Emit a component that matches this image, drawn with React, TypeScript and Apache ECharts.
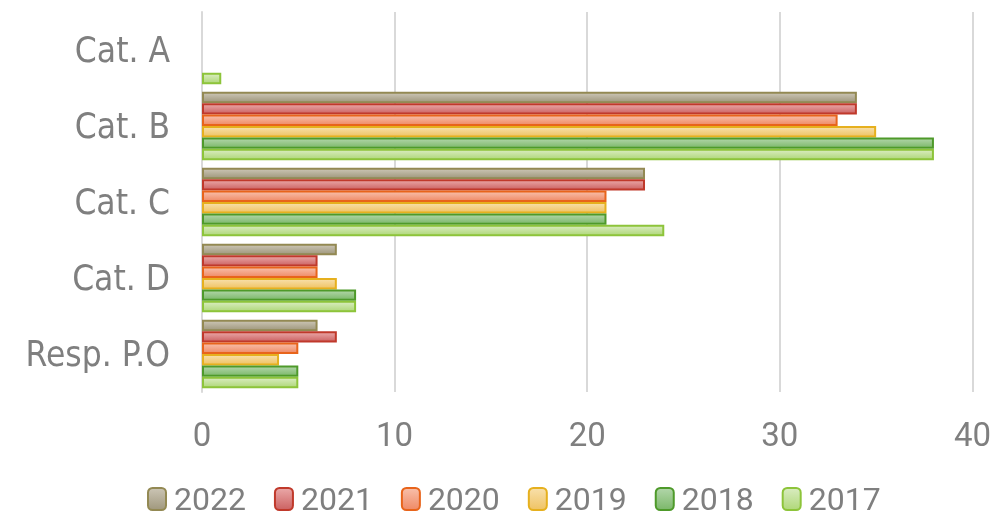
import React, { useEffect, useRef } from "react";
import * as echarts from "echarts";

const categories = ["Cat. A", "Cat. B", "Cat. C", "Cat. D", "Resp. P.O"];
const seriesNames = ["2022", "2021", "2020", "2019", "2018", "2017"];
const v2022 = [null, 34, 23, 7, 6];
const v2021 = [null, 34, 23, 6, 7];
const v2020 = [null, 33, 21, 6, 5];
const v2019 = [null, 35, 21, 7, 4];
const v2018 = [null, 38, 21, 8, 5];
const v2017 = [1, 38, 24, 8, 5];
const seriesValues = [v2022, v2021, v2020, v2019, v2018, v2017];
const xTicks = [0, 10, 20, 30, 40];

const borders = ["#938953", "#c0392b", "#e8641b", "#e6b01e", "#4e9a2a", "#8dc43a"];
const tops = ["#cbc5b5", "#eaa8a8", "#f8bfaa", "#f8e0ab", "#b2d6aa", "#d9ecc0"];
const bottoms = ["#a0987d", "#cc6262", "#ef8a66", "#efc364", "#7cb86a", "#b0d87a"];

const numFont = "Roboto, 'DejaVu Sans Condensed', sans-serif";

export default function App() {
  const ref = useRef<HTMLDivElement>(null);
  useEffect(() => {
    const chart = echarts.init(ref.current!, null, { renderer: "svg" });
    const labelColor = "#7f7f7f";
    chart.setOption({
      animation: false,
      legend: {
        top: 477,
        left: 142,
        itemWidth: 18,
        itemHeight: 22,
        itemGap: 28,
        textStyle: { fontSize: 32, lineHeight: 34, color: labelColor, fontFamily: numFont, padding: [0, 0, 0, 3] },
        data: seriesNames,
      },
      grid: { left: 202, right: 19, top: 12, bottom: 125 },
      xAxis: {
        type: "value",
        min: xTicks[0],
        max: xTicks[xTicks.length - 1],
        interval: 10,
        axisLine: { show: false },
        axisTick: { show: false },
        axisLabel: { fontSize: 33, color: labelColor, margin: 26, fontFamily: numFont },
        splitLine: { lineStyle: { color: "#d9d9d9", width: 2 } },
      },
      yAxis: {
        type: "category",
        inverse: true,
        data: categories,
        axisLine: { lineStyle: { color: "#d9d9d9", width: 2 } },
        axisTick: { show: false },
        axisLabel: { fontSize: 35, color: labelColor, margin: 32, fontFamily: "'DejaVu Sans Condensed', 'DejaVu Sans', sans-serif" },
      },
      series: seriesNames.map((name, i) => ({
        name,
        type: "bar",
        data: seriesValues[i],
        barGap: "0%",
        barCategoryGap: "10%",
        itemStyle: {
          color: {
            type: "linear",
            x: 0, y: 0, x2: 0, y2: 1,
            colorStops: [
              { offset: 0, color: tops[i] },
              { offset: 1, color: bottoms[i] },
            ],
          },
          borderColor: borders[i],
          borderWidth: 2,
        },
      })),
    });
    return () => chart.dispose();
  }, []);
  return <div ref={ref} style={{ position: "fixed", left: 0, top: 0, width: 994, height: 517 }} />;
}
